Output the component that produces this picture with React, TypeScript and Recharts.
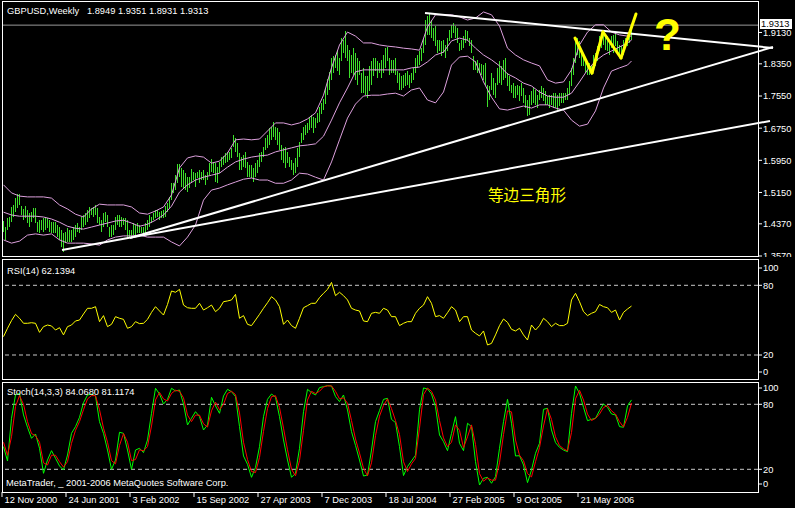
import { ComposedChart, Bar, Line, XAxis, YAxis, ReferenceLine } from "recharts";

const FONT = '"Liberation Sans", Arial, sans-serif';
const CJK = '"Noto Sans CJK SC", sans-serif';
const W = 795;
const H = 508;
const X_DOMAIN: [number, number] = [-0.75, 377.25];

// weekly bars, week 0 = 12 Nov 2000
const priceHigh = [
  1.444, 1.429, 1.451, 1.454, 1.479, 1.484, 1.501, 1.511, 1.511, 1.481,
  1.474, 1.481, 1.471, 1.464, 1.466, 1.476, 1.476, 1.441, 1.446, 1.446,
  1.451, 1.451, 1.451, 1.446, 1.441, 1.441, 1.441, 1.434, 1.429, 1.422,
  1.414, 1.417, 1.427, 1.422, 1.422, 1.429, 1.434, 1.439, 1.429, 1.454,
  1.459, 1.464, 1.471, 1.479, 1.476, 1.479, 1.484, 1.476, 1.454, 1.446,
  1.464, 1.466, 1.459, 1.429, 1.434, 1.434, 1.454, 1.459, 1.459, 1.454,
  1.451, 1.451, 1.446, 1.422, 1.422, 1.439, 1.434, 1.439, 1.434, 1.429,
  1.429, 1.439, 1.446, 1.459, 1.454, 1.464, 1.471, 1.471, 1.466, 1.469,
  1.471, 1.481, 1.489, 1.504, 1.538, 1.538, 1.558, 1.586, 1.586, 1.576,
  1.571, 1.563, 1.553, 1.553, 1.573, 1.566, 1.563, 1.566, 1.571, 1.566,
  1.571, 1.558, 1.566, 1.588, 1.598, 1.591, 1.588, 1.578, 1.591, 1.603,
  1.606, 1.613, 1.616, 1.616, 1.626, 1.658, 1.650, 1.638, 1.613, 1.603,
  1.608, 1.616, 1.591, 1.583, 1.583, 1.576, 1.588, 1.596, 1.613, 1.616,
  1.628, 1.650, 1.658, 1.675, 1.678, 1.690, 1.678, 1.675, 1.665, 1.633,
  1.626, 1.628, 1.616, 1.603, 1.596, 1.588, 1.601, 1.626, 1.640, 1.663,
  1.678, 1.683, 1.688, 1.703, 1.708, 1.703, 1.700, 1.713, 1.728, 1.737,
  1.747, 1.775, 1.797, 1.815, 1.849, 1.854, 1.857, 1.869, 1.849, 1.899,
  1.894, 1.917, 1.882, 1.869, 1.857, 1.874, 1.862, 1.849, 1.842, 1.812,
  1.825, 1.805, 1.805, 1.830, 1.842, 1.849, 1.849, 1.842, 1.837, 1.845,
  1.857, 1.874, 1.877, 1.849, 1.845, 1.845, 1.849, 1.817, 1.812, 1.805,
  1.807, 1.812, 1.817, 1.807, 1.812, 1.825, 1.849, 1.857, 1.867, 1.874,
  1.899, 1.944, 1.954, 1.961, 1.944, 1.924, 1.929, 1.894, 1.894, 1.892,
  1.894, 1.882, 1.899, 1.919, 1.932, 1.937, 1.929, 1.924, 1.887, 1.894,
  1.904, 1.919, 1.917, 1.899, 1.894, 1.854, 1.842, 1.845, 1.837, 1.835,
  1.832, 1.837, 1.782, 1.780, 1.812, 1.800, 1.787, 1.825, 1.842, 1.830,
  1.845, 1.849, 1.812, 1.805, 1.782, 1.787, 1.780, 1.782, 1.780, 1.787,
  1.775, 1.757, 1.745, 1.757, 1.767, 1.775, 1.770, 1.757, 1.770, 1.780,
  1.775, 1.767, 1.755, 1.757, 1.757, 1.762, 1.762, 1.757, 1.762, 1.762,
  1.762, 1.762, 1.775, 1.792, 1.825, 1.849, 1.899, 1.899, 1.892, 1.867,
  1.857, 1.845, 1.842, 1.837, 1.830, 1.857, 1.862, 1.879, 1.904, 1.907,
  1.917, 1.907, 1.904, 1.894, 1.904, 1.907, 1.912, 1.892, 1.882, 1.879,
  1.894, 1.899, 1.907, 1.912, 1.9351,
];

const priceLow = [
  1.417, 1.397, 1.422, 1.429, 1.441, 1.454, 1.466, 1.476, 1.484, 1.459,
  1.446, 1.451, 1.439, 1.429, 1.441, 1.451, 1.439, 1.417, 1.414, 1.422,
  1.417, 1.422, 1.427, 1.417, 1.414, 1.414, 1.414, 1.404, 1.397, 1.379,
  1.367, 1.389, 1.392, 1.392, 1.392, 1.397, 1.404, 1.417, 1.414, 1.422,
  1.429, 1.434, 1.441, 1.451, 1.459, 1.454, 1.459, 1.439, 1.434, 1.417,
  1.429, 1.441, 1.429, 1.404, 1.404, 1.409, 1.422, 1.434, 1.429, 1.429,
  1.434, 1.422, 1.402, 1.404, 1.404, 1.409, 1.404, 1.414, 1.414, 1.414,
  1.409, 1.414, 1.422, 1.429, 1.439, 1.446, 1.451, 1.454, 1.446, 1.451,
  1.451, 1.454, 1.466, 1.476, 1.496, 1.514, 1.521, 1.538, 1.553, 1.528,
  1.526, 1.521, 1.516, 1.526, 1.538, 1.546, 1.528, 1.551, 1.538, 1.546,
  1.546, 1.533, 1.546, 1.558, 1.566, 1.563, 1.541, 1.538, 1.563, 1.578,
  1.583, 1.588, 1.591, 1.596, 1.601, 1.628, 1.616, 1.603, 1.571, 1.571,
  1.578, 1.576, 1.553, 1.553, 1.551, 1.541, 1.553, 1.563, 1.578, 1.591,
  1.603, 1.621, 1.626, 1.633, 1.645, 1.653, 1.645, 1.633, 1.621, 1.596,
  1.588, 1.576, 1.588, 1.578, 1.571, 1.558, 1.563, 1.578, 1.603, 1.638,
  1.645, 1.658, 1.663, 1.670, 1.675, 1.663, 1.675, 1.688, 1.690, 1.710,
  1.720, 1.735, 1.757, 1.770, 1.795, 1.812, 1.825, 1.817, 1.807, 1.842,
  1.862, 1.849, 1.842, 1.800, 1.812, 1.807, 1.795, 1.782, 1.807, 1.762,
  1.762, 1.757, 1.750, 1.767, 1.782, 1.805, 1.817, 1.800, 1.812, 1.800,
  1.812, 1.825, 1.842, 1.807, 1.812, 1.812, 1.807, 1.787, 1.770, 1.770,
  1.775, 1.780, 1.782, 1.775, 1.787, 1.795, 1.812, 1.825, 1.832, 1.842,
  1.862, 1.882, 1.907, 1.907, 1.899, 1.892, 1.879, 1.862, 1.867, 1.854,
  1.862, 1.849, 1.867, 1.892, 1.899, 1.912, 1.899, 1.887, 1.867, 1.869,
  1.874, 1.887, 1.892, 1.879, 1.862, 1.820, 1.820, 1.812, 1.812, 1.807,
  1.795, 1.782, 1.728, 1.745, 1.770, 1.757, 1.750, 1.782, 1.787, 1.782,
  1.795, 1.800, 1.780, 1.767, 1.762, 1.750, 1.750, 1.757, 1.743, 1.755,
  1.737, 1.725, 1.705, 1.708, 1.733, 1.737, 1.733, 1.725, 1.745, 1.750,
  1.743, 1.733, 1.733, 1.725, 1.733, 1.725, 1.725, 1.720, 1.730, 1.737,
  1.737, 1.745, 1.745, 1.757, 1.780, 1.807, 1.837, 1.857, 1.849, 1.830,
  1.830, 1.812, 1.807, 1.807, 1.807, 1.817, 1.830, 1.842, 1.867, 1.874,
  1.882, 1.869, 1.867, 1.857, 1.874, 1.862, 1.879, 1.857, 1.849, 1.854,
  1.857, 1.874, 1.879, 1.887, 1.8931,
];

// Bollinger bands (20), read every 4 weeks, last point = last week
const bandUpper = [
  1.534, 1.514, 1.506, 1.504, 1.504, 1.504, 1.501, 1.484, 1.474, 1.461,
  1.454, 1.474, 1.486, 1.484, 1.484, 1.484, 1.479, 1.464, 1.461, 1.469,
  1.479, 1.509, 1.576, 1.601, 1.606, 1.603, 1.588, 1.593, 1.613, 1.646,
  1.648, 1.646, 1.648, 1.668, 1.688, 1.688, 1.683, 1.688, 1.698, 1.713,
  1.757, 1.825, 1.882, 1.914, 1.904, 1.887, 1.887, 1.882, 1.879, 1.877,
  1.874, 1.872, 1.869, 1.927, 1.957, 1.957, 1.957, 1.952, 1.944, 1.949,
  1.964, 1.957, 1.929, 1.874, 1.857, 1.845, 1.837, 1.830, 1.795, 1.787,
  1.790, 1.820, 1.882, 1.914, 1.932, 1.932, 1.914, 1.907, 1.904, 1.904,
];
const bandMiddle = [
  1.466, 1.459, 1.456, 1.456, 1.456, 1.454, 1.449, 1.441, 1.431, 1.426,
  1.424, 1.429, 1.434, 1.439, 1.444, 1.446, 1.439, 1.431, 1.436, 1.446,
  1.459, 1.481, 1.516, 1.534, 1.546, 1.553, 1.558, 1.563, 1.578, 1.591,
  1.598, 1.603, 1.606, 1.608, 1.616, 1.621, 1.626, 1.631, 1.633, 1.636,
  1.655, 1.695, 1.738, 1.775, 1.815, 1.820, 1.820, 1.820, 1.820, 1.820,
  1.820, 1.825, 1.827, 1.840, 1.857, 1.864, 1.892, 1.899, 1.894, 1.874,
  1.857, 1.845, 1.830, 1.810, 1.800, 1.787, 1.780, 1.765, 1.755, 1.752,
  1.752, 1.762, 1.790, 1.820, 1.842, 1.857, 1.867, 1.877, 1.887, 1.894,
];
const bandLower = [
  1.397, 1.389, 1.394, 1.409, 1.412, 1.409, 1.412, 1.397, 1.389, 1.389,
  1.389, 1.387, 1.384, 1.397, 1.404, 1.407, 1.407, 1.409, 1.404, 1.404,
  1.404, 1.392, 1.382, 1.404, 1.434, 1.496, 1.521, 1.526, 1.534, 1.541,
  1.548, 1.551, 1.546, 1.546, 1.538, 1.538, 1.546, 1.563, 1.561, 1.553,
  1.546, 1.591, 1.646, 1.700, 1.735, 1.755, 1.757, 1.757, 1.760, 1.762,
  1.755, 1.770, 1.775, 1.745, 1.738, 1.765, 1.832, 1.852, 1.854, 1.840,
  1.790, 1.752, 1.723, 1.720, 1.725, 1.730, 1.725, 1.733, 1.733, 1.725,
  1.720, 1.695, 1.680, 1.685, 1.718, 1.775, 1.817, 1.825, 1.832, 1.842,
];

// RSI(14), read every 2 weeks
const rsiValues = [
  35.8, 43.0, 49.6, 55.0, 51.6, 47.3, 47.3, 47.8, 47.3, 39.5,
  44.4, 45.8, 45.0, 41.5, 43.5, 37.3, 44.4, 45.8, 49.3, 50.1,
  55.3, 60.2, 60.2, 61.6, 48.7, 53.9, 44.4, 46.4, 53.0, 51.6,
  50.7, 43.0, 44.4, 48.7, 47.0, 47.3, 50.7, 56.7, 61.6, 57.9,
  54.4, 63.5, 75.1, 74.0, 76.5, 63.0, 60.7, 60.2, 60.2, 64.5,
  58.7, 60.7, 63.0, 57.3, 60.2, 65.9, 66.5, 67.4, 72.2, 51.6,
  53.9, 46.4, 45.3, 50.1, 55.0, 60.2, 65.0, 70.2, 67.4, 61.6,
  46.4, 50.1, 45.3, 43.0, 51.6, 60.7, 62.5, 64.5, 64.5, 69.4,
  73.1, 76.5, 82.5, 71.1, 74.0, 71.1, 67.4, 60.2, 58.7, 57.9,
  49.3, 48.7, 55.9, 56.7, 55.9, 60.2, 58.7, 53.0, 53.0, 45.3,
  47.3, 48.7, 48.7, 55.9, 60.2, 63.0, 70.2, 64.5, 53.0, 53.9,
  51.6, 56.4, 61.6, 58.7, 48.7, 53.0, 53.0, 41.5, 38.7, 36.4,
  40.7, 28.6, 30.0, 37.3, 45.3, 51.0, 48.1, 42.1, 40.7, 43.0,
  37.3, 32.9, 45.8, 41.5, 45.3, 51.6, 48.7, 44.4, 47.3, 45.3,
  45.3, 47.3, 67.4, 73.1, 65.9, 57.3, 53.9, 55.9, 57.3, 63.5,
  61.6, 60.7, 56.7, 58.7, 50.1, 56.7, 59.6, 62.1394,
];

// Stochastic(14,3,3), read every 2 weeks
const stochK = [
  40.9, 27.7, 67.1, 88.6, 90.2, 70.2, 58.8, 48.6, 52.6, 39.4,
  16.3, 28.6, 37.2, 30.2, 23.1, 19.4, 33.2, 53.2, 59.4, 68.0,
  81.5, 88.6, 89.5, 87.7, 64.0, 53.2, 37.8, 20.0, 28.6, 54.2,
  53.2, 37.8, 20.0, 37.8, 39.4, 35.4, 47.1, 71.7, 94.8, 89.5,
  80.3, 84.6, 94.8, 92.3, 93.2, 80.3, 60.9, 67.1, 73.2, 68.6,
  56.3, 60.9, 86.5, 78.5, 71.7, 87.7, 93.8, 91.7, 87.1, 59.4,
  32.3, 24.6, 12.6, 21.8, 40.9, 68.6, 84.6, 89.5, 86.5, 68.6,
  47.1, 28.6, 12.6, 16.3, 39.4, 73.2, 93.8, 90.8, 88.6, 95.4,
  96.3, 97.2, 96.9, 87.1, 82.5, 88.6, 74.8, 54.8, 42.1, 28.6,
  13.8, 14.8, 37.8, 64.0, 74.2, 84.6, 85.5, 66.1, 63.1, 40.9,
  14.2, 22.5, 27.7, 33.0, 75.0, 95.1, 94.2, 89.5, 77.8, 51.7,
  45.5, 37.2, 53.2, 68.6, 44.0, 37.2, 62.5, 59.4, 27.1, 5.5,
  11.7, 12.6, 7.1, 13.2, 39.4, 64.0, 84.6, 62.5, 32.3, 32.6,
  24.0, 7.7, 19.4, 34.8, 44.0, 75.4, 76.3, 56.3, 44.6, 40.3,
  37.8, 36.3, 71.7, 96.9, 90.2, 77.2, 64.9, 66.1, 67.1, 74.2,
  80.3, 77.2, 71.1, 70.2, 59.4, 58.8, 78.5, 84.068,
];
const stochD = [
  45, 33, 50, 78, 88, 80, 64, 53, 51, 45,
  26, 24, 33, 33, 27, 22, 27, 44, 56, 64,
  75, 85, 88, 88, 75, 58, 45, 28, 25, 42,
  53, 45, 28, 29, 38, 37, 41, 60, 84, 91,
  85, 83, 90, 93, 92, 86, 70, 64, 70, 70,
  62, 59, 74, 82, 75, 80, 90, 92, 89, 72,
  45, 29, 18, 17, 31, 55, 76, 87, 88, 77,
  58, 38, 20, 14, 28, 56, 84, 92, 90, 92,
  96, 97, 97, 92, 85, 86, 81, 65, 48, 35,
  21, 14, 26, 51, 69, 79, 85, 76, 65, 52,
  27, 18, 25, 30, 58, 89, 95, 92, 84, 65,
  49, 41, 45, 61, 56, 40, 50, 61, 43, 16,
  9, 12, 10, 10, 26, 52, 74, 73, 47, 33,
  28, 16, 13, 27, 40, 60, 76, 66, 50, 42,
  39, 37, 54, 85, 93, 84, 71, 65, 67, 71,
  77, 79, 74, 71, 64, 59, 68, 81.1174,
];

const priceTicks = [1.357, 1.437, 1.515, 1.595, 1.675, 1.755, 1.835, 1.913];
const dateTickWeeks = [0, 32, 64, 96, 128, 160, 192, 224, 256, 288];
const dateLabels = [
  "12 Nov 2000", "24 Jun 2001", "3 Feb 2002", "15 Sep 2002", "27 Apr 2003",
  "7 Dec 2003", "18 Jul 2004", "27 Feb 2005", "9 Oct 2005", "21 May 2006",
];

// hand-drawn trend lines: [week, price] pairs
const trendLines = [
  [[210.75, 1.9615], [384.75, 1.8744]],
  [[63.25, 1.4017], [384.75, 1.8769]],
  [[29.25, 1.3718], [383.25, 1.6928]],
];
const wWeeks = [285.75, 294.25, 299.75, 308.75, 316.25];
const wPrices = [1.8993, 1.8122, 1.9142, 1.8495, 1.959];
const lastClose = 1.9313;

const priceRows: any[] = priceHigh.map((h, w) => ({ w, range: [priceLow[w], h] }));
bandUpper.forEach((v, i) => {
  const row = priceRows[Math.min(i * 4, priceRows.length - 1)];
  row.up = v;
  row.mid = bandMiddle[i];
  row.lo = bandLower[i];
});
const rsiRows = rsiValues.map((v, i) => ({ w: i * 2, rsi: v }));
const stochRows = stochK.map((v, i) => ({ w: i * 2, k: v, d: stochD[i] }));

const txt = { fill: "#fff", fontSize: 9.3, fontFamily: FONT };

const priceTick = ({ y, payload }: any) => (
  <g>
    <line x1={758} x2={762} y1={y} y2={y} stroke="#fff" />
    <text x={763} y={y + 3.4} {...txt}>{payload.value.toFixed(4)}</text>
  </g>
);

const oscTick = (lo: number, hi: number) => ({ y, payload }: any) => {
  const ty = Math.min(Math.max(y, lo), hi);
  return (
    <g>
      <line x1={758} x2={762} y1={ty} y2={ty} stroke="#fff" />
      <text x={763} y={ty + 3.4} {...txt}>{payload.value}</text>
    </g>
  );
};

const dateTick = ({ x, payload }: any) => {
  const i = dateTickWeeks.indexOf(payload.value);
  return (
    <g>
      <line x1={x - 1.5} x2={x - 1.5} y1={492} y2={497} stroke="#fff" />
      <text x={x + 1} y={503} {...txt}>{dateLabels[i]}</text>
    </g>
  );
};

const layer: React.CSSProperties = { position: "absolute", left: 0, top: 0 };

function Pane({ top, height }: { top: number; height: number }) {
  return (
    <div style={{ position: "absolute", left: 2, top, width: 757, height, border: "1px solid #fff", boxSizing: "border-box" }} />
  );
}

function Label({ x, top, children, style }: any) {
  return (
    <div style={{ position: "absolute", left: x, top, color: "#fff", fontSize: 9.3, fontFamily: FONT, lineHeight: "10px", whiteSpace: "pre", ...style }}>
      {children}
    </div>
  );
}

export default function App() {
  return (
    <div style={{ position: "fixed", left: 0, top: 0, width: W, height: H, background: "#000", overflow: "hidden" }}>
      <style>{".recharts-bar-rectangle path, .recharts-bar-rectangle rect { shape-rendering: crispEdges; }"}</style>
      <div style={layer}>
        <ComposedChart width={W} height={H} data={priceRows} margin={{ top: 2, right: 0, bottom: H - 256, left: 2 }}>
          <XAxis type="number" dataKey="w" domain={X_DOMAIN} hide allowDataOverflow />
          <YAxis orientation="right" width={37} domain={[1.357, 1.98883]} ticks={priceTicks} interval={0}
            tick={priceTick} axisLine={false} tickLine={false} allowDataOverflow />
          <ReferenceLine y={lastClose} stroke="#9a9a9a" />
          <Line dataKey="up" stroke="#dda0dd" dot={false} connectNulls isAnimationActive={false} />
          <Line dataKey="mid" stroke="#dda0dd" dot={false} connectNulls isAnimationActive={false} />
          <Line dataKey="lo" stroke="#dda0dd" dot={false} connectNulls isAnimationActive={false} />
          <Bar dataKey="range" fill="#3de02a" barSize={1} isAnimationActive={false} />
          {trendLines.map((seg, i) => (
            <ReferenceLine key={i} segment={seg.map(([x, y]) => ({ x, y }))} stroke="#fff" strokeWidth={2} ifOverflow="visible" />
          ))}
          {wWeeks.slice(1).map((x, i) => (
            <ReferenceLine key={"w" + i} segment={[{ x: wWeeks[i], y: wPrices[i] }, { x, y: wPrices[i + 1] }]}
              stroke="#ffff00" strokeWidth={3} strokeLinecap="round" ifOverflow="visible" />
          ))}
        </ComposedChart>
      </div>
      <div style={{ position: "absolute", left: 0, top: 257, width: W, height: H - 257, background: "#000" }} />
      <div style={layer}>
        <ComposedChart width={W} height={H} data={rsiRows} margin={{ top: 259, right: 0, bottom: H - 379, left: 2 }}>
          <XAxis type="number" dataKey="w" domain={X_DOMAIN} hide allowDataOverflow />
          <YAxis orientation="right" width={37} domain={[-0.66, 102.64]} ticks={[0, 20, 80, 100]} interval={0}
            tick={oscTick(268, 372)} axisLine={false} tickLine={false} allowDataOverflow />
          <ReferenceLine y={80} stroke="#c8c8c8" strokeDasharray="4 3" />
          <ReferenceLine y={20} stroke="#c8c8c8" strokeDasharray="4 3" />
          <Line dataKey="rsi" stroke="#ffff00" dot={false} isAnimationActive={false} />
        </ComposedChart>
      </div>
      <div style={{ position: "absolute", left: 0, top: 380, width: W, height: H - 380, background: "#000" }} />
      <div style={layer}>
        <ComposedChart width={W} height={H} data={stochRows} margin={{ top: 382, right: 0, bottom: 0, left: 2 }}>
          <XAxis type="number" dataKey="w" domain={X_DOMAIN} ticks={dateTickWeeks} interval={0} height={16}
            tick={dateTick} axisLine={false} tickLine={false} allowDataOverflow />
          <YAxis orientation="right" width={37} domain={[-0.95, 100.59]} ticks={[0, 20, 80, 100]} interval={0}
            tick={oscTick(388, 484)} axisLine={false} tickLine={false} allowDataOverflow />
          <ReferenceLine y={80} stroke="#c8c8c8" strokeDasharray="4 3" />
          <ReferenceLine y={20} stroke="#c8c8c8" strokeDasharray="4 3" />
          <Line dataKey="k" stroke="#00ff00" dot={false} isAnimationActive={false} />
          <Line dataKey="d" stroke="#ff0000" dot={false} isAnimationActive={false} />
        </ComposedChart>
      </div>

      <Pane top={1} height={256} />
      <Pane top={259} height={121} />
      <Pane top={382} height={111} />

      <Label x={7} top={6}>{"GBPUSD,Weekly   1.8949 1.9351 1.8931 1.9313"}</Label>
      <Label x={7} top={266}>RSI(14) 62.1394</Label>
      <Label x={7} top={387}>Stoch(14,3,3) 84.0680 81.1174</Label>
      <Label x={6} top={478}>MetaTrader, _ 2001-2006 MetaQuotes Software Corp.</Label>
      <Label x={760} top={19} style={{ background: "#fff", color: "#000", width: 31, height: 10, paddingLeft: 1 }}>1.9313</Label>

      <div style={{ position: "absolute", left: 488, top: 185, color: "#ffff00", fontSize: 15.6, fontFamily: CJK, lineHeight: "18px", whiteSpace: "pre" }}>
        等边三角形
      </div>
      <div style={{ position: "absolute", left: 654, top: 13, color: "#ffff00", fontSize: 44, fontWeight: 700, fontFamily: FONT, lineHeight: "44px" }}>
        ?
      </div>
    </div>
  );
}
